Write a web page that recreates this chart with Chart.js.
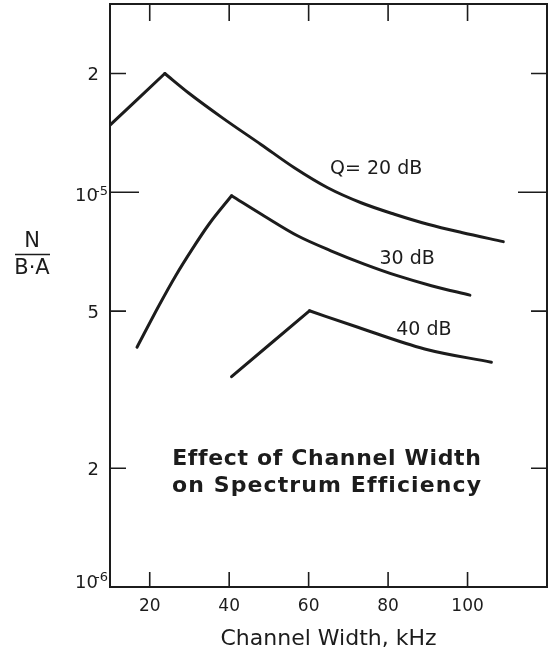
<!DOCTYPE html>
<html>
<head>
<meta charset="utf-8">
<script src="https://cdn.jsdelivr.net/npm/chart.js@4"></script>
<style>
  html, body { margin: 0; padding: 0; background: #fff; }
  canvas { display: block; }
</style>
</head>
<body>
<canvas id="effChart" width="552" height="662"></canvas>
<script>
// channel width (kHz) and N/(B.A)
var q20Width = [10, 23.8, 29.8, 38.3, 48.0, 56.4, 64.8, 73.2, 81.6, 90.0, 98.5, 109];
var q20Eff = [1.48e-5, 2.0e-5, 1.785e-5, 1.544e-5, 1.322e-5, 1.154e-5, 1.027e-5, 9.41e-6, 8.8e-6, 8.3e-6, 7.91e-6, 7.5e-6];
var q30Width = [16.8, 22.3, 26.5, 30.7, 34.9, 40.6, 48.8, 57.2, 65.6, 74.0, 82.5, 90.9, 100.6];
var q30Eff = [4.05e-6, 5.16e-6, 6.14e-6, 7.18e-6, 8.3e-6, 9.8e-6, 8.71e-6, 7.76e-6, 7.11e-6, 6.58e-6, 6.14e-6, 5.8e-6, 5.49e-6];
var q40Width = [40.6, 60.2, 72.4, 89.2, 106];
var q40Eff = [3.41e-6, 5.01e-6, 4.55e-6, 4.01e-6, 3.71e-6];

var xTicks = [20, 40, 60, 80, 100];
var yTicks = [1e-6, 2e-6, 5e-6, 1e-5, 2e-5];
var yTickBase = ["10", "2", "5", "10", "2"];
var yTickExp = ["-6", "", "", "-5", ""];

var curveLabels = ["Q= 20 dB", "30 dB", "40 dB"];
var curveLabelX = [77.0, 84.8, 89.0];
var curveLabelY = [1.143e-5, 6.78e-6, 4.49e-6];

var noteLines = ["Effect of Channel Width", "on Spectrum Efficiency"];
var noteX = 64.5;
var noteY = [2.11e-6, 1.8e-6];

var ink = "#1c1c1c";
var font = "DejaVu Sans";

function points(xs, ys) {
  return xs.map(function (x, i) { return { x: x, y: ys[i] }; });
}

function segment(data) {
  return {
    data: data,
    borderColor: ink,
    borderWidth: 3,
    pointRadius: 0,
    cubicInterpolationMode: "monotone",
    fill: false,
    borderJoinStyle: "round",
    borderCapStyle: "round"
  };
}

// each curve is a rise and a fall that meet in a sharp peak
function curve(xs, ys) {
  var pts = points(xs, ys);
  var peak = ys.indexOf(Math.max.apply(null, ys));
  return [segment(pts.slice(0, peak + 1)), segment(pts.slice(peak))];
}

var paperPlugin = {
  id: "paper",
  afterDatasetsDraw: function (chart) {
    var ctx = chart.ctx, a = chart.chartArea;
    var xs = chart.scales.x, ys = chart.scales.y;
    ctx.save();

    // frame and inward ticks on all four sides
    ctx.strokeStyle = ink;
    ctx.lineWidth = 2;
    ctx.strokeRect(a.left, a.top, a.right - a.left, a.bottom - a.top);
    ctx.lineWidth = 1.6;
    ctx.beginPath();
    xTicks.forEach(function (v) {
      var px = xs.getPixelForValue(v);
      ctx.moveTo(px, a.bottom); ctx.lineTo(px, a.bottom - 15);
      ctx.moveTo(px, a.top); ctx.lineTo(px, a.top + 17);
    });
    yTicks.forEach(function (v, i) {
      var py = ys.getPixelForValue(v);
      var len = yTickExp[i] ? 29 : 16;
      ctx.moveTo(a.left, py); ctx.lineTo(a.left + len, py);
      ctx.moveTo(a.right, py); ctx.lineTo(a.right - len, py);
    });
    ctx.stroke();

    // y tick labels, decades with a raised exponent
    ctx.fillStyle = ink;
    ctx.textBaseline = "middle";
    yTicks.forEach(function (v, i) {
      var py = ys.getPixelForValue(v);
      ctx.font = "18px " + font;
      if (yTickExp[i]) {
        var cy = Math.min(py + 4.5, a.bottom - 4);
        ctx.textAlign = "right";
        ctx.fillText(yTickBase[i], a.left - 12, cy);
        ctx.font = "13px " + font;
        ctx.textAlign = "left";
        ctx.fillText(yTickExp[i], a.left - 15, cy - 5);
      } else {
        ctx.textAlign = "right";
        ctx.fillText(yTickBase[i], a.left - 11, py + 2);
      }
    });

    // y axis title as a fraction
    ctx.font = "21px " + font;
    ctx.textAlign = "center";
    ctx.fillText("N", 32, 242);
    ctx.fillText("B\u00B7A", 32, 269);
    ctx.lineWidth = 1.5;
    ctx.beginPath();
    ctx.moveTo(15, 254.5); ctx.lineTo(50, 254.5);
    ctx.stroke();

    // curve labels
    ctx.font = "19px " + font;
    curveLabels.forEach(function (t, i) {
      ctx.fillText(t, xs.getPixelForValue(curveLabelX[i]), ys.getPixelForValue(curveLabelY[i]));
    });

    // note, stretched to the same width on both lines
    ctx.font = "bold 22px " + font;
    noteLines.forEach(function (t, i) {
      ctx.letterSpacing = "0px";
      var w = ctx.measureText(t).width;
      var ls = (308 - w) / t.length;
      ctx.letterSpacing = ls + "px";
      ctx.fillText(t, xs.getPixelForValue(noteX) + ls / 2, ys.getPixelForValue(noteY[i]));
    });
    ctx.letterSpacing = "0px";
    ctx.restore();
  }
};

new Chart(document.getElementById("effChart"), {
  type: "scatter",
  data: {
    datasets: [].concat(
      curve(q20Width, q20Eff),
      curve(q30Width, q30Eff),
      curve(q40Width, q40Eff)
    )
  },
  options: {
    responsive: false,
    animation: false,
    showLine: true,
    layout: { padding: { top: 4, right: 5, left: 0, bottom: 0 } },
    plugins: { legend: { display: false }, tooltip: { enabled: false } },
    scales: {
      x: {
        type: "linear",
        min: 10,
        max: 120,
        afterBuildTicks: function (s) { s.ticks = xTicks.map(function (v) { return { value: v }; }); },
        afterFit: function (s) { s.height = 75; },
        grid: { display: false, drawTicks: false },
        border: { display: false },
        ticks: { autoSkip: false, maxRotation: 0, padding: 9, color: ink, font: { family: font, size: 17 } },
        title: {
          display: true,
          text: "Channel Width, kHz",
          color: ink,
          font: { family: font, size: 22 },
          padding: { top: 0, bottom: 10 }
        }
      },
      y: {
        type: "logarithmic",
        min: 1e-6,
        max: 3e-5,
        afterBuildTicks: function (s) { s.ticks = yTicks.map(function (v) { return { value: v }; }); },
        afterFit: function (s) { s.width = 110; },
        grid: { display: false },
        border: { display: false },
        ticks: { display: false }
      }
    }
  },
  plugins: [paperPlugin]
});
</script>
</body>
</html>
